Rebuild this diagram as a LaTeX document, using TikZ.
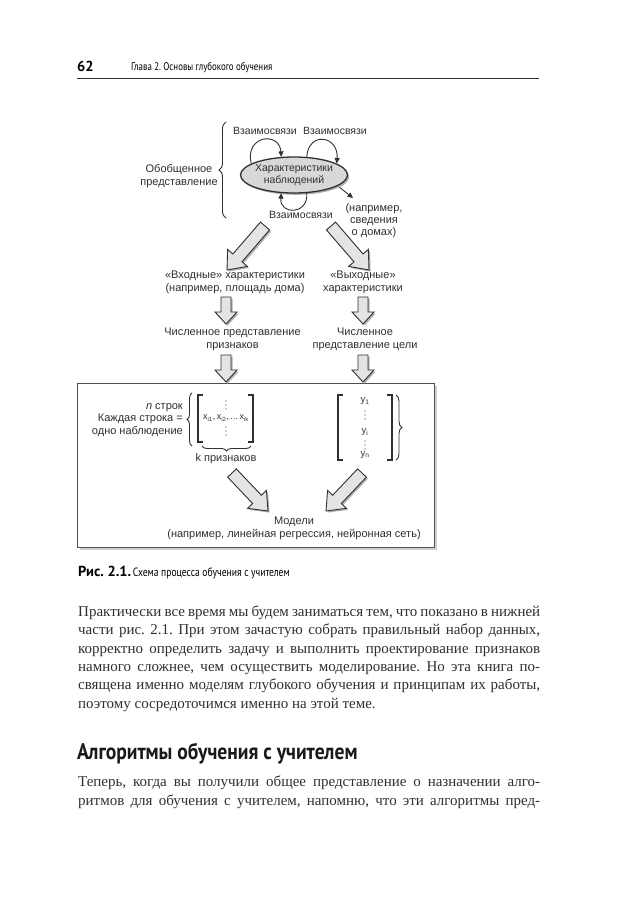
\documentclass[tikz,border=0pt]{standalone}
\usepackage{fontspec}
\setmainfont{Liberation Serif}
\newfontfamily\diagfont{Liberation Sans}
\newfontfamily\condfont[FakeStretch=0.8]{PT Sans}
\newfontfamily\headfont[FakeStretch=0.87]{PT Sans}
\newfontfamily\numfont{PT Sans}
\usetikzlibrary{shapes.geometric,arrows.meta,decorations.pathreplacing,calc}
\frenchspacing
\definecolor{ink}{HTML}{303030}
\definecolor{bodyc}{HTML}{303030}
\definecolor{arrowfill}{HTML}{E4E4E4}
\definecolor{shadowc}{HTML}{B0B0B0}
\definecolor{ellfill}{HTML}{D8D8D8}
\tikzset{
  lbl/.style={font={\diagfont\fontsize{11}{12.5}\selectfont}, text=ink, align=center, inner sep=0pt},
  rellbl/.style={lbl, font={\diagfont\fontsize{10.5}{12}\selectfont}},
  bodyline/.style={anchor=base west, inner sep=0pt, font={\fontsize{15}{18}\selectfont}, text=bodyc},
  bashadow/.style={fill=shadowc},
  babody/.style={fill=arrowfill, draw=ink, line width=0.9pt, line join=miter},
  loopa/.style={draw=ink, line width=0.9pt, -{Triangle[length=5.5pt,width=5pt]}},
  bracestyle/.style={draw=ink, line width=0.9pt, decorate},
  bracket/.style={draw=ink, line width=1.1pt},
}
\newcommand\blockarrow[5]{%
  \path let \p1=(#1), \p2=(#2),
            \n1={atan2(\y2-\y1,\x2-\x1)},
            \n2={veclen(\x2-\x1,\y2-\y1)} in
    \pgfextra{\xdef\baAng{\n1}\xdef\baLen{\n2}\xdef\baX{\x1}\xdef\baY{\y1}};
  \begin{scope}[shift={(\baX+1.6pt,\baY-1.6pt)},rotate=\baAng,x=1pt,y=1pt]
    \fill[bashadow] (0,#3) -- ({\baLen-#5},#3) -- ({\baLen-#5},#4) -- (\baLen,0) -- ({\baLen-#5},-#4) -- ({\baLen-#5},-#3) -- (0,-#3) -- cycle;
  \end{scope}
  \begin{scope}[shift={(\baX,\baY)},rotate=\baAng,x=1pt,y=1pt]
    \filldraw[babody] (0,#3) -- ({\baLen-#5},#3) -- ({\baLen-#5},#4) -- (\baLen,0) -- ({\baLen-#5},-#4) -- ({\baLen-#5},-#3) -- (0,-#3) -- cycle;
  \end{scope}
}
\begin{document}
\begin{tikzpicture}[x=1pt,y=-1pt]
\fill[white] (0,0) rectangle (635,898);
\useasboundingbox (0,0) rectangle (635,898);

% header
\node[anchor=base west, inner sep=0pt, font={\numfont\bfseries\fontsize{14.5}{16}\selectfont}, text=black] (pnum) at (77,71) {62};
\node[anchor=base west, inner sep=0pt, font={\condfont\fontsize{11.1}{12}\selectfont}, text=black] (chap) at (131,70.5) {Глава 2. Основы глубокого обучения};
\draw[ink, line width=1.2pt] (77,78.5) -- (539,78.5);

% top part of the diagram
\node[ellipse, fill=shadowc, minimum width=107pt, minimum height=36pt, inner sep=0pt] (obsshadow) at (295.8,176.8) {};
\node[ellipse, draw=ink, line width=1.3pt, fill=ellfill, minimum width=107pt, minimum height=36pt, inner sep=0pt] (obs) at (294,175) {};
\node[lbl, font={\diagfont\fontsize{10.5}{12}\selectfont}] (obstext) at (obs) {Характеристики\\наблюдений};

\node[rellbl] (rel1) at (265,131) {Взаимосвязи};
\node[rellbl] (rel2) at (335,131) {Взаимосвязи};
\node[rellbl] (rel3) at (301,215) {Взаимосвязи};
\node[lbl] (gen) at (179,176) {Обобщенное\\представление};
\node[lbl, font={\diagfont\fontsize{11}{12}\selectfont}] (ex) at (374,220.5) {(например,\\сведения\\о домах)};

\draw[loopa] (obs.165) .. controls +(-7,-28) and +(-2,-26) .. (obs.125);
\draw[loopa] (obs.55) .. controls +(2,-26) and +(2,-28) .. (obs.15);
\draw[loopa] (obs.-55) .. controls +(2,22) and +(-2,22) .. (obs.-125);
\coordinate (exa) at (353,198);
\draw[loopa, shorten <=2pt] (obs.-14) -- (exa);

\coordinate (gbt) at (226,122);
\coordinate (gbb) at (226,218);
\draw[bracestyle, decoration={brace, amplitude=7pt}] (gbb) -- (gbt);

% middle labels
\node[lbl] (inF) at (235,282.5) {«Входные» характеристики\\(например, площадь дома)};
\node[lbl] (outF) at (363,282.5) {«Выходные»\\характеристики};
\node[lbl] (numF) at (232.5,339.5) {Численное представление\\признаков};
\node[lbl] (numT) at (365,339.5) {Численное\\представление цели};

% box
\fill[shadowc!60] (79.5,385.5) rectangle (436.5,549.5);
\filldraw[fill=white, draw=ink!85, line width=0.9pt] (77,383) rectangle (434,547);

% block arrows
\coordinate (ula) at (265,226); \coordinate (ulb) at (227,270);
\coordinate (ura) at (331,226); \coordinate (urb) at (369,270);
\coordinate (d1a) at (226,297); \coordinate (d1b) at (226,324);
\coordinate (d2a) at (363,297); \coordinate (d2b) at (363,324);
\coordinate (d3a) at (226,355); \coordinate (d3b) at (226,382);
\coordinate (d4a) at (363,355); \coordinate (d4b) at (363,382);
\coordinate (lla) at (232,473); \coordinate (llb) at (268,511);
\coordinate (lra) at (362,473); \coordinate (lrb) at (326,511);
\blockarrow{ula}{ulb}{6}{13}{16}
\blockarrow{ura}{urb}{6}{13}{16}
\blockarrow{d1a}{d1b}{5}{11}{12}
\blockarrow{d2a}{d2b}{5}{11}{12}
\blockarrow{d3a}{d3b}{5}{11}{12}
\blockarrow{d4a}{d4b}{5}{11}{12}
\blockarrow{lla}{llb}{6}{13}{16}
\blockarrow{lra}{lrb}{6}{13}{16}

% left matrix
\node[lbl, align=right, anchor=east] (rows) at (183,420) {\textit{n} строк\\Каждая строка =\\одно наблюдение};
\coordinate (rbt) at (192,393);
\coordinate (rbb) at (192,446);
\draw[bracestyle, decoration={brace, amplitude=5pt}] (rbb) -- (rbt);
\draw[bracket] (203,395) -- (198,395) -- (198,442) -- (203,442);
\draw[bracket] (248,395) -- (253,395) -- (253,442) -- (248,442);
\node[inner sep=0pt, text=ink, font={\diagfont\fontsize{9}{10}\selectfont}] (xrow) at (226,418)
  {x\textsubscript{i1},\,x\textsubscript{i2},\,...\,x\textsubscript{ik}};
\foreach \yy in {401,405,409,427,431,435} \fill[ink] (226,\yy) circle (0.6);
\coordinate (kbr) at (251,446);
\coordinate (kbl) at (202,446);
\draw[bracestyle, decoration={brace, amplitude=5pt}] (kbr) -- (kbl);
\node[lbl] (kf) at (226,459) {k признаков};

% right matrix
\draw[bracket] (343,395) -- (338,395) -- (338,460) -- (343,460);
\draw[bracket] (387,395) -- (392,395) -- (392,460) -- (387,460);
\coordinate (ybt) at (396,395);
\coordinate (ybb) at (396,460);
\draw[bracestyle, decoration={brace, amplitude=6pt}] (ybt) -- (ybb);
\node[inner sep=0pt, text=ink, font={\diagfont\fontsize{9.5}{10}\selectfont}] (y1) at (365,401) {y\textsubscript{1}};
\node[inner sep=0pt, text=ink, font={\diagfont\fontsize{9.5}{10}\selectfont}] (yi) at (365,432) {y\textsubscript{i}};
\node[inner sep=0pt, text=ink, font={\diagfont\fontsize{9.5}{10}\selectfont}] (yn) at (365,455) {y\textsubscript{n}};
\foreach \yy in {411,415,419,441,445,449} \fill[ink] (365,\yy) circle (0.6);

\node[lbl] (model) at (294,528.5) {Модели\\(например, линейная регрессия, нейронная сеть)};

% caption
\node[anchor=base west, inner sep=0pt, text=black] (cap) at (78,576)
  {{\numfont\bfseries\fontsize{14.5}{16}\selectfont Рис.~2.1.}\,{\condfont\fontsize{12}{14}\selectfont Схема процесса обучения с учителем}};

% body text
\node[bodyline] (p1) at (78,616.5) {\makebox[462pt][s]{Практически все время мы будем заниматься тем, что показано в нижней}};
\node[bodyline] (p2) at (78,634.8) {\makebox[462pt][s]{части рис. 2.1. При этом зачастую собрать правильный набор данных,}};
\node[bodyline] (p3) at (78,653.1) {\makebox[462pt][s]{корректно определить задачу и выполнить проектирование признаков}};
\node[bodyline] (p4) at (78,671.4) {\makebox[462pt][s]{намного сложнее, чем осуществить моделирование. Но эта книга по-}};
\node[bodyline] (p5) at (78,689.7) {\makebox[462pt][s]{священа именно моделям глубокого обучения и принципам их работы,}};
\node[bodyline] (p6) at (78,708) {поэтому сосредоточимся именно на этой теме.};

\node[anchor=base west, inner sep=0pt, font={\headfont\bfseries\fontsize{22.5}{26}\selectfont}, text=black!90] (head) at (77,759) {Алгоритмы обучения с учителем};

\node[bodyline] (q1) at (78,786.5) {\makebox[462pt][s]{Теперь, когда вы получили общее представление о назначении алго-}};
\node[bodyline] (q2) at (78,805) {\makebox[462pt][s]{ритмов для обучения с учителем, напомню, что эти алгоритмы пред-}};
\end{tikzpicture}
\end{document}
